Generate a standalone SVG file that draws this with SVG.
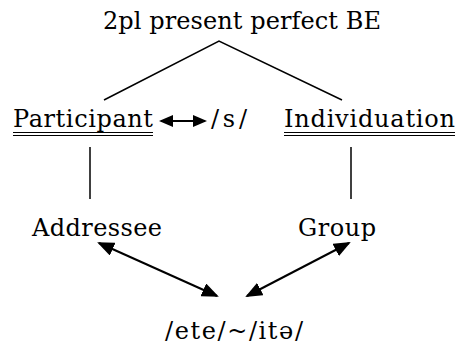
<svg xmlns="http://www.w3.org/2000/svg" width="456" height="348" viewBox="0 0 456 348">
<style>
text{font-family:"DejaVu Serif","Liberation Serif",serif;font-size:24px;fill:#000}
.ln{stroke:#000;stroke-width:1.5;fill:none}
.ar{stroke:#000;stroke-width:2;fill:none}
.ul{stroke:#000;stroke-width:1}
</style>
<defs>
<marker id="ah" markerUnits="userSpaceOnUse" markerWidth="17" markerHeight="14" refX="15" refY="7" orient="auto-start-reverse" viewBox="0 0 17 14">
<path d="M0,0 L17,7 L0,14 z" fill="#000"/>
</marker>
<marker id="ahs" markerUnits="userSpaceOnUse" markerWidth="14" markerHeight="12" refX="12" refY="6" orient="auto-start-reverse" viewBox="0 0 14 12">
<path d="M0,0 L14,6 L0,12 z" fill="#000"/>
</marker>
</defs>
<rect width="456" height="348" fill="#fff"/>
<g id="connectors">
<polyline class="ln" points="104,100 219,41 342,100"/>
<line class="ln" x1="90" y1="147" x2="90" y2="199"/>
<line class="ln" x1="351" y1="147" x2="351" y2="199"/>
<line class="ar" x1="161" y1="121" x2="205" y2="121" marker-start="url(#ahs)" marker-end="url(#ahs)"/>
<line class="ar" x1="99" y1="243" x2="217" y2="296" marker-start="url(#ah)" marker-end="url(#ah)"/>
<line class="ar" x1="349" y1="243" x2="247" y2="296" marker-start="url(#ah)" marker-end="url(#ah)"/>
</g>
<g id="node-title"><text x="103" y="29" textLength="278">2pl present perfect BE</text></g>
<g id="node-participant"><text x="13" y="127" textLength="140">Participant</text>
<line class="ul" x1="13" y1="132.5" x2="153" y2="132.5"/><line class="ul" x1="13" y1="135.5" x2="153" y2="135.5"/></g>
<g id="node-s"><text x="211" y="127" font-size="26" textLength="36">/s/</text></g>
<g id="node-individuation"><text x="284" y="127" textLength="171">Individuation</text>
<line class="ul" x1="284" y1="132.5" x2="455" y2="132.5"/><line class="ul" x1="284" y1="135.5" x2="455" y2="135.5"/></g>
<g id="node-addressee"><text x="32" y="236" textLength="130">Addressee</text></g>
<g id="node-group"><text x="298" y="236" textLength="78">Group</text></g>
<g id="node-ete"><text x="165" y="339" font-size="25" textLength="138">/ete/~/itə/</text></g>
</svg>
